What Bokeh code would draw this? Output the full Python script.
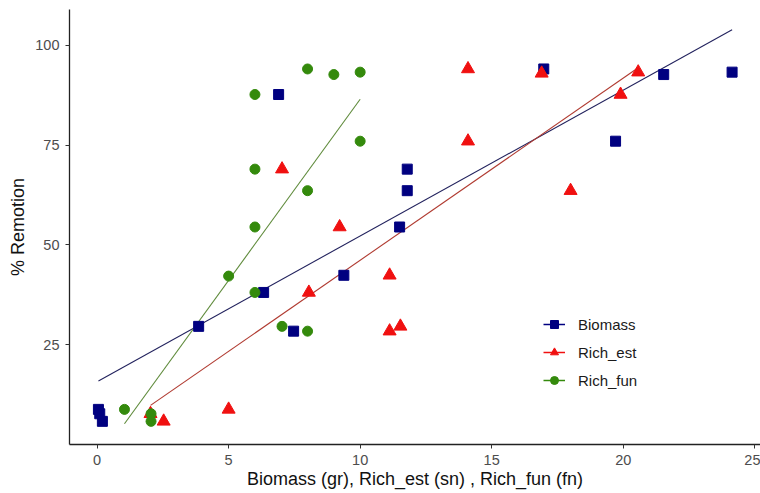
from bokeh.plotting import figure
from bokeh.models import Range1d, Legend, LegendItem, FixedTicker
from bokeh.embed import file_html
from bokeh.resources import INLINE

# ---- data ----
biomass_x = [0.05, 0.10, 0.20, 3.86, 6.33, 7.47, 9.38, 6.90, 11.50, 11.79, 11.79, 16.98, 19.71, 21.54, 24.14]
biomass_y = [8.8, 7.7, 5.8, 29.6, 38.1, 28.4, 42.4, 87.7, 54.5, 63.6, 69.0, 94.1, 76.0, 92.7, 93.3]

rich_est_x = [2.03, 2.53, 5.00, 8.05, 7.03, 9.22, 11.12, 11.12, 11.53, 14.10, 14.10, 16.90, 18.00, 19.90, 20.57]
rich_est_y = [7.7, 5.8, 8.8, 38.1, 69.0, 54.5, 42.4, 28.4, 29.6, 94.1, 76.0, 93.0, 63.6, 87.7, 93.3]

rich_fun_x = [1.04, 2.05, 2.05, 5.00, 6.00, 7.03, 8.00, 6.00, 8.00, 6.00, 10.00, 6.00, 8.00, 9.00, 10.00]
rich_fun_y = [8.8, 7.7, 5.8, 42.2, 38.1, 29.6, 28.4, 54.5, 63.6, 69.0, 76.0, 87.7, 94.1, 92.7, 93.3]

# linear-fit lines (end points)
biomass_fit_x = [0.05, 24.14]
biomass_fit_y = [15.9, 103.9]
rich_est_fit_x = [2.03, 20.57]
rich_est_fit_y = [9.8, 94.4]
rich_fun_fit_x = [1.04, 10.00]
rich_fun_fit_y = [5.2, 86.5]

x_ticks = [0, 5, 10, 15, 20, 25]
y_ticks = [25, 50, 75, 100]

x_title = "Biomass (gr), Rich_est (sn) , Rich_fun (fn)"
y_title = "% Remotion"
series_names = ["Biomass", "Rich_est", "Rich_fun"]

# ---- styling ----
FONT = "Liberation Sans"
c_bio, c_est, c_fun = "#000080", "#F01010", "#348A0C"
l_bio, l_est, l_fun = "#23235E", "#B03A30", "#5E8A3A"

p = figure(width=760, height=493, output_backend="svg", toolbar_location=None,
           x_range=Range1d(-1.05, 25.22), y_range=Range1d(0.0, 109.0),
           min_border_left=69, min_border_top=9, min_border_right=0, min_border_bottom=49)
p.grid.visible = False
p.outline_line_color = None
p.background_fill_color = "white"
p.border_fill_color = "white"

for ax in (p.xaxis[0], p.yaxis[0]):
    ax.axis_line_color = "#222222"
    ax.axis_line_width = 1.3
    ax.major_tick_line_color = "#333333"
    ax.major_tick_in = 0
    ax.major_tick_out = 4
    ax.minor_tick_line_color = None
    ax.major_label_text_font = FONT
    ax.major_label_text_font_size = "14.5px"
    ax.major_label_text_color = "#4D4D4D"
    ax.axis_label_text_font = FONT
    ax.axis_label_text_font_size = "18px"
    ax.axis_label_text_font_style = "normal"
    ax.axis_label_text_color = "#111111"

p.xaxis.ticker = FixedTicker(ticks=x_ticks)
p.yaxis.ticker = FixedTicker(ticks=y_ticks)
p.xaxis.axis_label = x_title
p.yaxis.axis_label = y_title
p.xaxis.major_label_standoff = 6
p.xaxis.axis_label_standoff = 1
p.yaxis.major_label_standoff = 6
p.yaxis.axis_label_standoff = 4

# fit lines
p.line(biomass_fit_x, biomass_fit_y, line_color=l_bio, line_width=1.1)
p.line(rich_est_fit_x, rich_est_fit_y, line_color=l_est, line_width=1.1)
p.line(rich_fun_fit_x, rich_fun_fit_y, line_color=l_fun, line_width=1.1)

# points
s_bio = p.scatter(biomass_x, biomass_y, marker="square", size=10, fill_color=c_bio, line_color=c_bio)
s_est = p.scatter(rich_est_x, rich_est_y, marker="triangle", size=13, fill_color=c_est, line_color=c_est)
s_fun = p.scatter(rich_fun_x, rich_fun_y, marker="circle", size=10, fill_color=c_fun, line_color=c_fun)

# legend key lines (NaN data: nothing drawn in the plot, only in the legend)
nan = float("nan")
k_bio = p.line([nan], [nan], line_color=c_bio, line_width=1.5)
k_est = p.line([nan], [nan], line_color=c_est, line_width=1.5)
k_fun = p.line([nan], [nan], line_color=c_fun, line_width=1.5)

legend = Legend(items=[
    LegendItem(label=series_names[0], renderers=[k_bio, s_bio]),
    LegendItem(label=series_names[1], renderers=[k_est, s_est]),
    LegendItem(label=series_names[2], renderers=[k_fun, s_fun]),
], location=(474, 54))
legend.border_line_color = None
legend.background_fill_alpha = 0
legend.padding = 0
legend.margin = 0
legend.spacing = 8
legend.glyph_width = 22
legend.glyph_height = 20
legend.label_standoff = 13
legend.label_text_font = FONT
legend.label_text_font_size = "15px"
legend.label_text_color = "#1A1A1A"
p.add_layout(legend, "center")

open("out.html", "w").write(file_html(p, INLINE))
